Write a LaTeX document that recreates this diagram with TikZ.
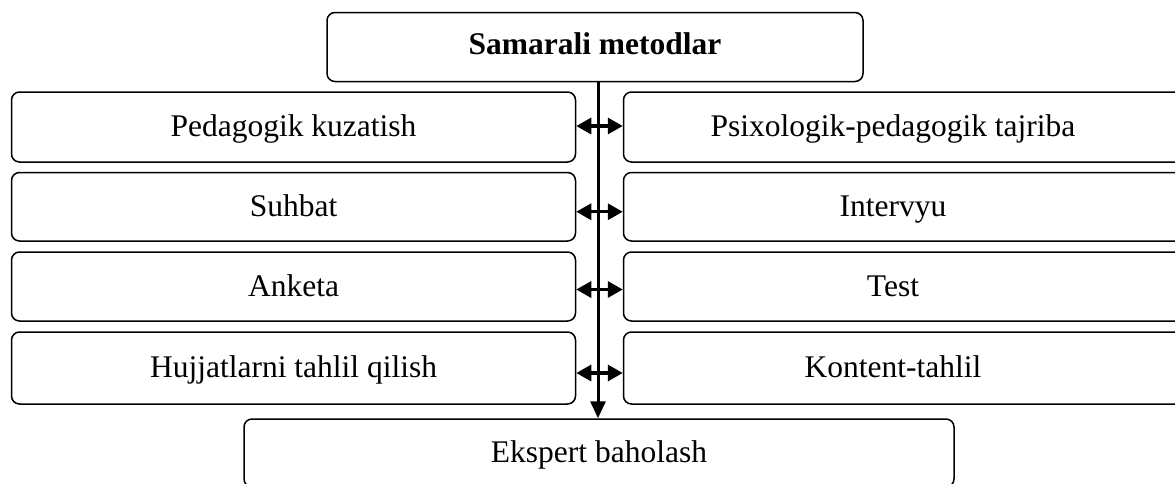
\documentclass[tikz,border=0pt]{standalone}
\usepackage{fontspec}
\setmainfont{Liberation Serif}
\usetikzlibrary{arrows.meta}
\begin{document}
\begin{tikzpicture}[x=1pt,y=-1pt,
  box/.style={draw, line width=1.5pt, rounded corners=8pt, inner sep=0pt,
    text height=24pt, text depth=5pt,
    font=\fontsize{31.5}{36}\selectfont},
  lbox/.style={box, minimum width=564pt},
  rbox/.style={box, minimum width=562pt},
  tip/.style={},
  vline/.style={line width=3pt, -{Triangle[length=17pt,width=15pt]}},
  dline/.style={line width=3.2pt, {Triangle[length=15pt,width=16pt]}-{Triangle[length=15pt,width=16pt]}}]
\useasboundingbox (0,0) rectangle (1175,483);
\clip (0,0) rectangle (1175,483);
\node[box, minimum width=536pt, minimum height=69pt, text height=22pt, text depth=7.5pt,
  font=\fontsize{31.5}{36}\selectfont\bfseries] (top) at (595,47) {Samarali metodlar};
\node[lbox, minimum height=70pt] (l1) at (293.5,127) {Pedagogik kuzatish};
\node[lbox, minimum height=68.5pt] (l2) at (293.5,206.75) {Suhbat};
\node[lbox, minimum height=69pt] (l3) at (293.5,286.5) {Anketa};
\node[lbox, minimum height=72pt] (l4) at (293.5,368) {Hujjatlarni tahlil qilish};
\node[rbox, minimum height=70pt] (r1) at (904.5,127) {\makebox[539pt][c]{Psixologik-pedagogik tajriba}\hspace*{23pt}};
\node[rbox, minimum height=68.5pt] (r2) at (904.5,206.75) {\makebox[539pt][c]{Intervyu}\hspace*{23pt}};
\node[rbox, minimum height=69pt] (r3) at (904.5,286.5) {\makebox[539pt][c]{Test}\hspace*{23pt}};
\node[rbox, minimum height=72pt] (r4) at (904.5,368) {\makebox[539pt][c]{Kontent-tahlil}\hspace*{23pt}};
\node[box, minimum width=710pt, minimum height=68pt] (bot) at (599,453) {Ekspert baholash};
\draw[vline] ([xshift=3pt]top.south) -- ([xshift=-1pt]bot.north);
\draw[dline] ([yshift=1pt]l1.east) -- ([yshift=1pt]r1.west);
\draw[dline] ([yshift=-5pt]l2.east) -- ([yshift=-5pt]r2.west);
\draw[dline] ([yshift=-3pt]l3.east) -- ([yshift=-3pt]r3.west);
\draw[dline] ([yshift=-5pt]l4.east) -- ([yshift=-5pt]r4.west);
\end{tikzpicture}
\end{document}
